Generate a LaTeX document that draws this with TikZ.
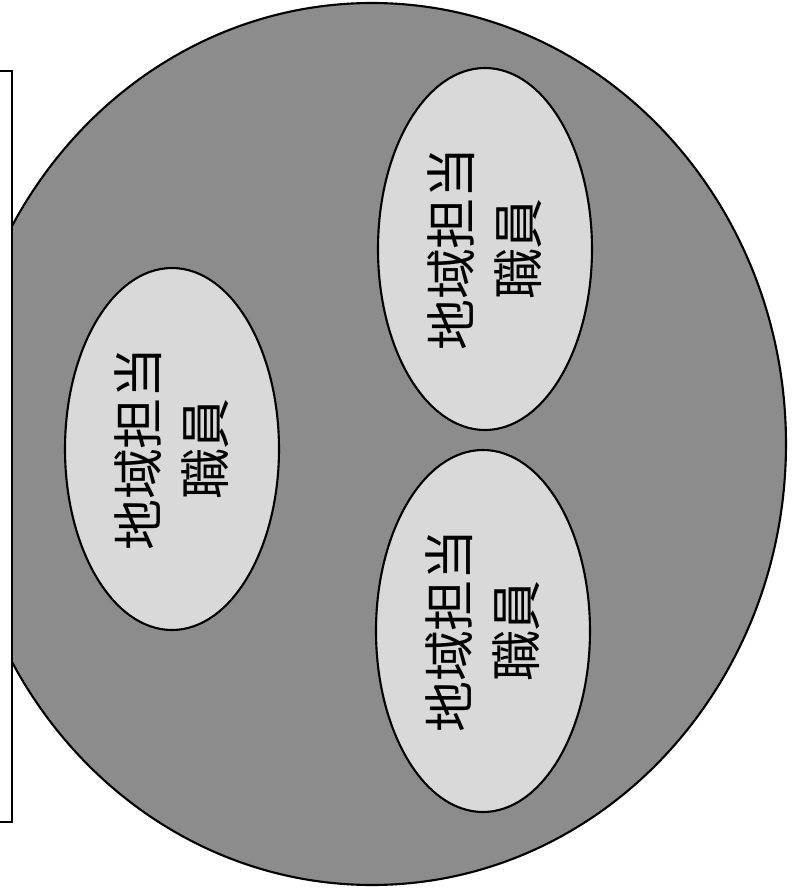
\documentclass[tikz,border=0pt]{standalone}
\usepackage{fontspec}
\newfontfamily\jpfont{Noto Sans CJK JP}
\usetikzlibrary{shapes.geometric}

\tikzset{
  rand/.style={line width=0.6pt},
  shokuin/.style={ellipse, draw, rand, fill=black!15, inner sep=0pt,
    minimum width=36.2mm, minimum height=21.4mm, rotate=90, align=center,
    font=\jpfont\fontsize{14.5pt}{19pt}\selectfont}}

\begin{document}
\begin{tikzpicture}[x=0.1mm, y=0.1mm]
  \useasboundingbox (0,0) rectangle (798,890);
  \begin{scope}
    \clip (12,0) rectangle (798,890);
    \draw[rand, fill=black!45] (372,446) ellipse [x radius=414, y radius=441];
  \end{scope}
  \draw[rand] (0,819) -- (12,819) -- (12,68) -- (0,68);
  \foreach \n/\px/\py in {tanto1/172/441, tanto2/485/641, tanto3/483/259}
    \node[shokuin] (\n) at (\px,\py) {地域担当\\職員};
\end{tikzpicture}
\end{document}
